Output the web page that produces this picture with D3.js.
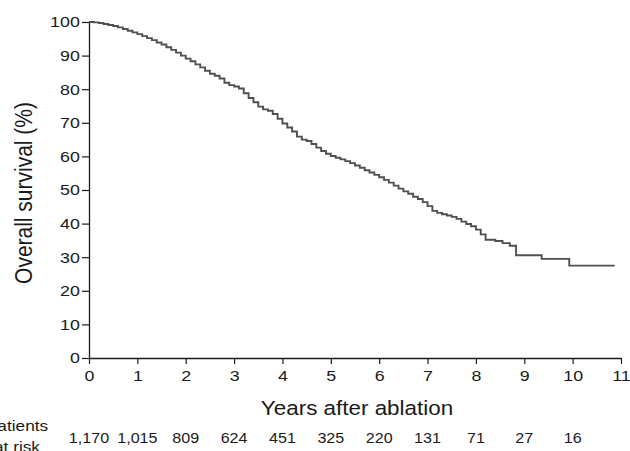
<!DOCTYPE html>
<html>
<head>
<meta charset="utf-8">
<script src="https://cdn.jsdelivr.net/npm/d3@7"></script>
<style>
  body { margin: 0; background: #fff; }
  svg { display: block; font-family: "Liberation Sans", Arial, sans-serif; }
</style>
</head>
<body>
<svg id="chart" width="630" height="451"></svg>
<script>
// Kaplan-Meier overall survival: [years, survival %]
const survival = [
  [0.0, 100], [0.1, 99.9], [0.2, 99.7], [0.3, 99.4], [0.4, 99.1], [0.5, 98.8],
  [0.6, 98.4], [0.7, 97.9], [0.8, 97.4], [0.9, 96.9], [1.0, 96.4], [1.1, 95.8],
  [1.2, 95.2], [1.3, 94.6], [1.4, 93.9], [1.5, 93.3], [1.6, 92.5], [1.7, 91.7],
  [1.8, 90.9], [1.9, 90.0], [2.0, 89.1], [2.1, 88.3], [2.2, 87.4], [2.3, 86.5],
  [2.4, 85.5], [2.5, 84.6], [2.6, 84.0], [2.7, 83.2], [2.8, 81.9], [2.9, 81.2],
  [3.0, 80.8], [3.1, 80.2], [3.2, 78.8], [3.3, 77.4], [3.4, 76.1], [3.5, 74.8],
  [3.6, 74.0], [3.7, 73.6], [3.8, 72.6], [3.9, 71.2], [4.0, 69.8], [4.1, 68.6],
  [4.2, 67.4], [4.3, 65.9], [4.4, 65.0], [4.5, 64.6], [4.6, 63.7], [4.7, 62.6],
  [4.8, 61.6], [4.9, 60.8], [5.0, 60.1], [5.1, 59.6], [5.2, 59.1], [5.3, 58.6],
  [5.4, 58.0], [5.5, 57.3], [5.6, 56.6], [5.7, 55.9], [5.8, 55.2], [5.9, 54.5],
  [6.0, 53.8], [6.1, 53.0], [6.2, 52.2], [6.3, 51.3], [6.4, 50.4], [6.5, 49.6],
  [6.6, 48.9], [6.7, 48.0], [6.8, 47.3], [6.9, 46.4], [7.0, 45.2], [7.1, 43.8],
  [7.2, 43.2], [7.3, 42.8], [7.4, 42.4], [7.5, 42.0], [7.6, 41.4], [7.7, 40.6],
  [7.8, 39.9], [7.9, 39.2], [8.0, 38.2], [8.1, 36.8], [8.2, 35.2], [8.4, 34.8],
  [8.55, 34.2], [8.7, 33.4], [8.83, 30.6], [9.36, 29.5], [9.93, 27.5], [10.87, 27.5]
];

const xTicks = [0, 1, 2, 3, 4, 5, 6, 7, 8, 9, 10, 11];
const yTicks = [0, 10, 20, 30, 40, 50, 60, 70, 80, 90, 100];
const atRiskYears = [0, 1, 2, 3, 4, 5, 6, 7, 8, 9, 10];
const atRisk = ["1,170", "1,015", "809", "624", "451", "325", "220", "131", "71", "27", "16"];

const svg = d3.select("#chart");
const ink = "#1a1a1a";
// the original figure is a bit wider than tall, so its lettering looks stretched
const stretch = 1.15;

const x = d3.scaleLinear().domain([0, 11]).range([89, 621]);
const y = d3.scaleLinear().domain([0, 100]).range([358, 22]);

// x axis
const gx = svg.append("g")
  .attr("transform", `translate(0,${y(0)})`)
  .call(d3.axisBottom(x).tickValues(xTicks).tickSize(6).tickPadding(5).tickSizeOuter(0));

// y axis
const gy = svg.append("g")
  .attr("transform", `translate(${x(0)},0)`)
  .call(d3.axisLeft(y).tickValues(yTicks).tickSize(7).tickPadding(1).tickSizeOuter(0));

[gx, gy].forEach(g => {
  g.select(".domain").attr("stroke", ink).attr("stroke-width", 1.3);
  g.selectAll(".tick line").attr("stroke", ink).attr("stroke-width", 1.2);
  g.selectAll(".tick text")
    .attr("fill", ink)
    .attr("font-size", 15.5)
    .attr("transform", `scale(${stretch},1)`);
});
gx.selectAll(".tick text").attr("dy", "0.75em");

// survival curve
const line = d3.line()
  .x(d => x(d[0]))
  .y(d => y(d[1]))
  .curve(d3.curveStepAfter);

svg.append("path")
  .datum(survival)
  .attr("fill", "none")
  .attr("stroke", "#505050")
  .attr("stroke-width", 1.9)
  .attr("d", line);

function label(px, py, txt, size, anchor, rot) {
  return svg.append("text")
    .attr("transform", `translate(${px},${py}) scale(${stretch},1)` + (rot ? ` rotate(${rot})` : ""))
    .attr("text-anchor", anchor)
    .attr("font-size", size)
    .attr("fill", ink)
    .text(txt);
}

// axis titles
label(357, 415, "Years after ablation", 19.5, "middle");
label(32, 193, "Overall survival (%)", 21, "middle", -90);

// number at risk row
atRisk.forEach((d, i) => label(x(atRiskYears[i]), 443, d, 14, "middle"));
label(17, 431, "Patients", 15, "middle");
label(17, 452, "at risk", 15, "middle");
</script>
</body>
</html>
